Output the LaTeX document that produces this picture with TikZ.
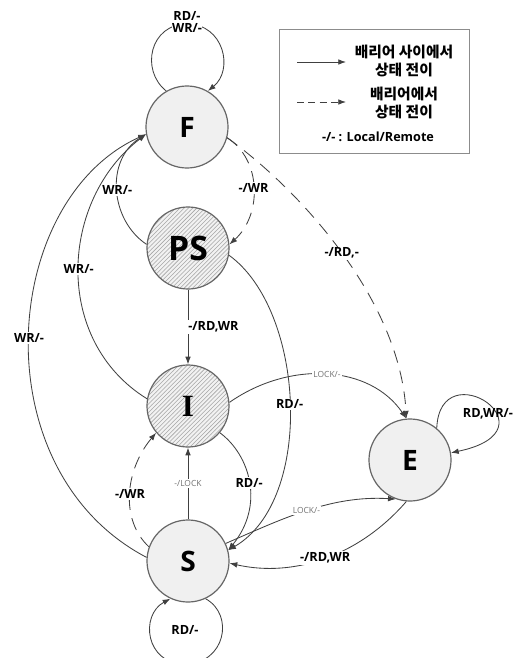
\documentclass[tikz,border=0pt]{standalone}
\usepackage{fontspec}
\setmainfont{Open Sans}
\newfontfamily\krfont{Noto Sans CJK KR}
\newfontfamily\slabfont{Liberation Serif}
\usetikzlibrary{arrows.meta,patterns}

\begin{document}
\begin{tikzpicture}[x=0.025cm, y=0.025cm, >={Latex[length=5.5pt,width=4pt]},
    main/.style = {draw=black!60, line width=0.85pt, circle, minimum size=2.05cm, inner sep=0pt, font=\fontsize{20}{20}\selectfont\bfseries},
    lightnode/.style = {main, fill=black!6},
    hatchnode/.style = {main, preaction={fill=black!5}, pattern=north east lines, pattern color=black!35},
    lbl/.style = {font=\fontsize{9}{8}\selectfont\bfseries, fill=white, inner sep=1pt},
    lockl/.style = {font=\fontsize{6}{6}\selectfont, text=black!55, fill=white, inner sep=1pt},
    krl/.style = {font=\krfont\bfseries\fontsize{10.5}{13}\selectfont, align=center, inner sep=0pt},
    arr/.style = {->, draw=black!75, line width=0.6pt},
    dasharr/.style = {arr, dash pattern=on 9pt off 6pt}]
    \useasboundingbox (0,0) rectangle (516,-658);

    \node[lightnode] (F)  at (187,-127) {F};
    \node[hatchnode, font=\fontsize{24}{24}\selectfont\bfseries] (PS) at (188,-248) {PS};
    \node[hatchnode, font=\slabfont\fontsize{22}{22}\selectfont\bfseries] (I) at (188,-406) {I};
    \node[lightnode] (S)  at (188,-561) {S};
    \node[lightnode] (E)  at (410,-460) {E};

    % self loops
    \draw[arr] (F.120) .. controls (140,-70) and (150,-24) .. (187,-24)
               .. controls (224,-24) and (234,-70) .. (F.60);
    \node[lbl, align=center, inner sep=0pt] (loopF) at (187,-22) {RD/-\\WR/-};
    \draw[arr] (S.295) .. controls (235,-615) and (225,-664) .. (185,-664)
               .. controls (145,-664) and (140,-615) .. (S.245);
    \node[lbl] (loopS) at (185,-630) {RD/-};
    \draw[arr] (E.50) .. controls (440,-350) and (560,-430) .. (E.10);
    \node[lbl, fill=none] (loopE) at (488,-414) {RD,WR/-};

    % into F
    \draw[arr] (PS.175) .. controls (110,-220) and (105,-160) .. node[lbl] {WR/-} (F.190);
    \draw[arr] (I.170) .. controls (52,-340) and (60,-200) .. node[lbl] {WR/-} (F.190);
    \draw[arr] (S.175) .. controls (-20,-470) and (0,-200) .. node[lbl] {WR/-} (F.190);

    % out of F
    \draw[dasharr] (F.345) .. controls (262,-160) and (262,-215) .. node[lbl] {-/WR} (PS.5);
    \draw[dasharr] (F.345) .. controls (300,-190) and (400,-300) .. node[lbl] {-/RD,-} (E.95);

    % column
    \draw[arr] (PS) -- node[lbl, anchor=west, xshift=-1pt] {-/RD,WR} (I);
    \draw[arr] (S) -- node[lockl] {-/LOCK} (I);
    \draw[arr] (PS.350) .. controls (305,-310) and (315,-500) .. node[lbl] {RD/-} (S.15);
    \draw[arr] (I.320) .. controls (250,-455) and (265,-505) .. node[lbl] {RD/-} (S.15);
    \draw[dasharr] (S.160) .. controls (120,-520) and (125,-470) .. node[lbl] {-/WR} (I.220);

    % to and from E
    \draw[arr] (I.5) .. controls (290,-360) and (370,-365) .. node[lockl] {LOCK/-} (E.95);
    \draw[arr] (S.25) .. controls (280,-520) and (330,-495) .. node[lockl] {LOCK/-} (E.250);
    \draw[arr] (E.265) .. controls (360,-555) and (295,-578) .. node[lbl] {-/RD,WR} (S.357);

    % legend
    \draw[black!45, line width=0.6pt] (279,-29) rectangle (469,-153);
    \coordinate (solidA) at (297,-62);
    \coordinate (solidB) at (346,-62);
    \coordinate (dashA) at (297,-102);
    \coordinate (dashB) at (346,-102);
    \draw[arr] (solidA) -- (solidB);
    \draw[arr, dash pattern=on 5pt off 3pt] (dashA) -- (dashB);
    \node[krl] (solidtxt) at (404,-61) {배리어 사이에서\\상태 전이};
    \node[krl] (dashtxt) at (404,-103) {배리어에서\\상태 전이};
    \node[lbl, fill=none] (keytxt) at (378,-137) {-/- : Local/Remote};
\end{tikzpicture}
\end{document}
